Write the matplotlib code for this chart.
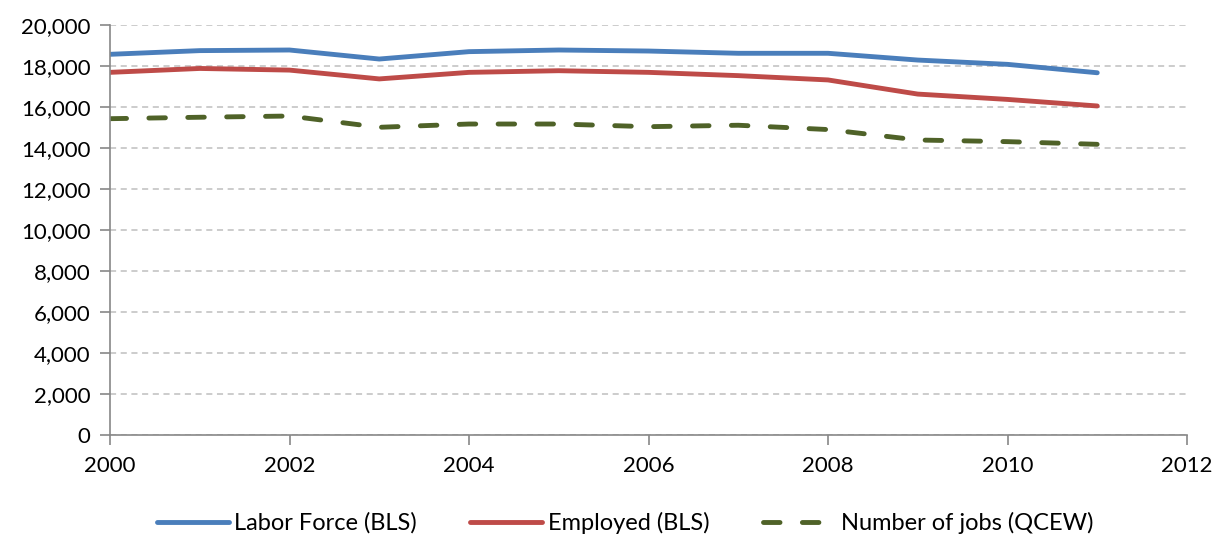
import numpy as np
import matplotlib
matplotlib.use("Agg")
import matplotlib.pyplot as plt
from matplotlib.ticker import FuncFormatter

plt.rcParams['font.family'] = ['Lato', 'DejaVu Sans']

# Données
annees = [2000, 2001, 2002, 2003, 2004, 2005, 2006, 2007, 2008, 2009, 2010, 2011]
labor_force = [18570, 18750, 18780, 18340, 18700, 18780, 18730, 18620, 18620, 18290, 18080, 17670]
employed = [17690, 17880, 17800, 17370, 17690, 17770, 17690, 17530, 17320, 16630, 16370, 16050]
jobs_qcew = [15430, 15500, 15560, 15010, 15170, 15170, 15040, 15110, 14900, 14390, 14310, 14180]

fig = plt.figure(figsize=(12.17, 5.38), dpi=100)
ax = fig.add_axes([110/1217, 1 - 435/538, (1187 - 110)/1217, (435 - 25)/538])

ax.plot(annees, labor_force, color='#4A7EBB', linewidth=3.5, solid_capstyle='round',
        label='Labor Force (BLS)')
ax.plot(annees, employed, color='#BE4B48', linewidth=3.5, solid_capstyle='round',
        label='Employed (BLS)')
ax.plot(annees, jobs_qcew, color='#4F6228', linewidth=3.5, dashes=(3.4, 4.6),
        dash_capstyle='round', label='Number of jobs (QCEW)')

ax.set_xlim(2000, 2012)
ax.set_ylim(0, 20000)
ax.set_xticks(range(2000, 2013, 2))
ax.set_yticks(range(0, 20001, 2000))
ax.yaxis.set_major_formatter(FuncFormatter(lambda v, p: f'{int(v):,}'))
ax.grid(axis='y', color='#BFBFBF', linestyle=(0, (4, 3)), linewidth=1.1)
ax.set_axisbelow(True)

for s in ['top', 'right']:
    ax.spines[s].set_visible(False)
for s in ['left', 'bottom']:
    ax.spines[s].set_color('#888888')
    ax.spines[s].set_linewidth(1.2)
ax.tick_params(axis='both', colors='#888888', length=7, width=1.2, labelcolor='black',
               labelsize=16)
ax.tick_params(axis='x', pad=8)
ax.tick_params(axis='y', pad=7)

fig.legend(loc='center', bbox_to_anchor=(625/1217, 1 - 523/538), ncol=3, frameon=False,
           fontsize=17, handlelength=3.05, columnspacing=2.25, handletextpad=0.25)

fig.savefig('out.png', dpi=100)
